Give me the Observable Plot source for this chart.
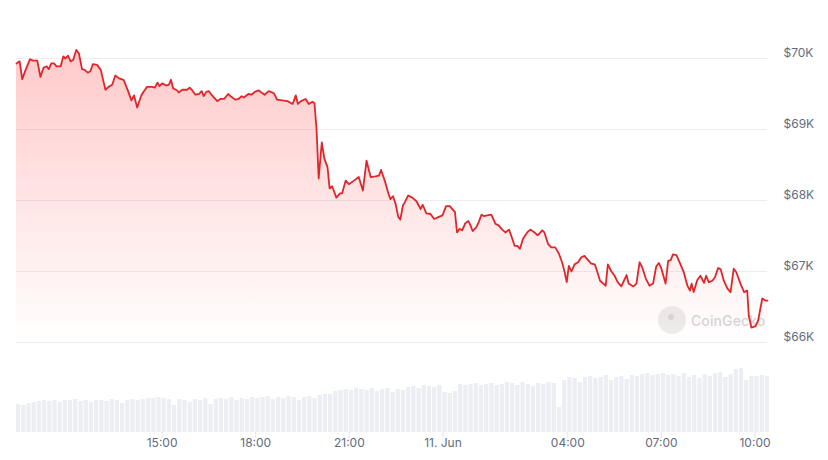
<!DOCTYPE html>
<html>
<head>
<meta charset="utf-8">
<script src="https://cdn.jsdelivr.net/npm/d3@7"></script>
<script src="https://cdn.jsdelivr.net/npm/@observablehq/plot@0.6"></script>
<style>
  body { margin: 0; background: #ffffff; font-family: Inter, "Noto Sans", sans-serif; }
  #wrap { position: relative; width: 828px; height: 460px; overflow: hidden; background: #fff; }
  #price, #vol { position: absolute; left: 0; z-index: 2; }
  #price { top: 0; }
  #vol { top: 360px; }
  #wm { position: absolute; left: 658px; top: 306px; z-index: 1; display: flex; align-items: center; gap: 5px; }
  #wm .logo { width: 28px; height: 28px; border-radius: 50%; background: #ececec; position: relative; }
  #wm .logo::after { content: ""; position: absolute; left: 10px; top: 8px; width: 6px; height: 6px; border-radius: 50%; background: #d8d8d8; }
  #wm .name { font: 500 14px Inter, "Noto Sans", sans-serif; color: #d6d6d6; letter-spacing: 0.1px; }
</style>
</head>
<body>
<div id="wrap">
  <div id="wm"><div class="logo"></div><div class="name">CoinGecko</div></div>
  <div id="price"></div>
  <div id="vol"></div>
</div>
<script>
// ---- Data (BTC price, 10 Jun 10:20 UTC → 11 Jun ~10:24) ----
const startTime = "2024-06-10T10:20:00Z";
// minutes after startTime
const minutes = [
  0,6,11,17,26,32,40,46,52,58,
  62,67,72,77,85,90,94,99,104,109,
  115,120,126,131,137,142,147,155,162,171,
  177,184,190,197,206,214,221,226,232,240,
  245,251,261,266,271,275,280,288,293,297,
  301,309,312,319,328,333,338,344,351,356,
  360,365,370,376,386,392,399,407,413,421,
  427,433,437,446,452,458,466,471,477,485,
  495,501,511,521,531,537,541,547,556,562,
  569,573,577,581,587,592,598,602,607,615,
  622,626,633,639,649,658,666,673,681,690,
  697,701,708,715,719,724,729,734,738,743,
  747,753,761,769,777,781,788,796,803,812,
  819,826,833,838,843,847,852,857,863,869,
  873,877,884,889,894,899,905,913,921,927,
  934,940,947,952,958,963,968,974,982,988,
  996,1002,1011,1015,1022,1028,1036,1043,1049,1054,
  1058,1062,1067,1073,1080,1086,1092,1099,1105,1112,
  1117,1122,1133,1137,1144,1150,1156,1163,1168,1173,
  1177,1186,1192,1198,1203,1210,1217,1224,1230,1235,
  1240,1248,1253,1258,1262,1269,1275,1283,1290,1295,
  1298,1302,1309,1315,1322,1326,1331,1338,1343,1349,
  1354,1360,1367,1373,1379,1384,1392,1399,1405,1408,
  1413,1421,1426,1434,1440,1444
];
const prices = [
  69930,69960,69710,69830,69990,69970,69970,69740,69870,69890,
  69850,69930,69930,69890,69890,70030,70000,70040,69960,69980,
  70120,70070,69850,69840,69800,69820,69920,69910,69840,69560,
  69600,69630,69760,69720,69700,69550,69410,69480,69310,69480,
  69540,69600,69600,69590,69660,69610,69650,69620,69630,69700,
  69580,69550,69520,69560,69560,69590,69550,69490,69500,69540,
  69470,69530,69540,69480,69400,69430,69430,69500,69460,69420,
  69430,69470,69450,69500,69490,69530,69550,69520,69490,69540,
  69510,69420,69410,69400,69360,69480,69360,69400,69430,69360,
  69390,69370,68990,68310,68820,68590,68470,68170,68200,68040,
  68100,68100,68280,68230,68280,68330,68140,68560,68330,68340,
  68350,68430,68280,68100,68020,68060,67950,67770,67730,67930,
  67980,68070,68040,67990,67880,67940,67820,67810,67740,67770,
  67790,67920,67920,67880,67840,67550,67600,67580,67680,67710,
  67650,67570,67620,67700,67800,67780,67790,67800,67670,67650,
  67590,67550,67590,67490,67360,67360,67320,67460,67550,67590,
  67550,67510,67580,67550,67390,67340,67340,67250,67130,66990,
  66850,67080,67000,67100,67130,67200,67220,67160,67110,67100,
  66990,66870,66800,67100,67000,66940,66850,66790,66870,66950,
  66830,66790,66830,67130,67060,66900,66800,66830,67070,67120,
  67040,66830,67150,67160,67240,67230,67130,66990,66800,66730,
  66830,66710,66880,66940,66840,66940,66850,66870,66920,67050,
  67030,66870,66760,66710,67040,66990,66830,66710,66730,66380,
  66210,66230,66310,66620,66590,66590
];
// trading volume per 10-minute bucket (relative units), from 10:20
const volumeStepMinutes = 10;
const volume = [
  28,27,29,30,31, 32,31,32,30,32, 32,33,31,32,30, 32,32,31,33,32,
  29,32,33,32,33, 34,34,35,34,33, 27,33,32,30,33, 32,34,28,33,34,
  33,35,32,34,33, 35,34,35,36,33, 35,34,36,35,32, 35,36,34,37,38,
  38,41,42,43,42, 44,43,42,44,41, 43,44,40,43,42, 45,46,44,47,46,
  45,47,40,39,41, 48,47,48,49,47, 48,49,47,48,50, 49,47,50,48,46,
  49,48,50,49,25, 52,55,54,50,55, 56,54,55,57,52, 55,56,53,57,56,
  58,59,57,58,59, 57,58,56,59,55, 57,54,58,56,59, 60,55,58,63,64,
  52,56,56,57,56
];
const endMinute = 1444;
const yTicks = [66000, 67000, 68000, 69000, 70000];
const yTickLabels = ["$66K", "$67K", "$68K", "$69K", "$70K"];
const xTickTimes = ["2024-06-10T15:00:00Z","2024-06-10T18:00:00Z","2024-06-10T21:00:00Z","2024-06-11T00:00:00Z","2024-06-11T04:00:00Z","2024-06-11T07:00:00Z","2024-06-11T10:00:00Z"];
const xTickLabels = ["15:00","18:00","21:00","11. Jun","04:00","07:00","10:00"];

// ---- Build tables ----
const t0 = new Date(startTime).getTime();
const MIN = 60000;
const priceData = minutes.map((m, i) => ({date: new Date(t0 + m * MIN), price: prices[i]}));
const volData = volume.map((v, i) => ({
  t1: new Date(t0 + i * volumeStepMinutes * MIN),
  t2: new Date(t0 + (i + 1) * volumeStepMinutes * MIN),
  v
}));
const yTickData = yTicks.map((v, i) => ({v, label: yTickLabels[i]}));
const xTickData = xTickTimes.map((s, i) => ({date: new Date(s), label: xTickLabels[i]}));
const xDomain = [new Date(t0), new Date(t0 + endMinute * MIN)];

const LINE = "#e0262a";
const LABEL = "#5f6b7c";

const gradient = () => {
  const defs = d3.create("svg:defs");
  const g = defs.append("linearGradient").attr("id", "priceFill")
    .attr("x1", 0).attr("x2", 0).attr("y1", 0).attr("y2", 1);
  g.append("stop").attr("offset", "0%").attr("stop-color", "#ff2a2a").attr("stop-opacity", 0.25);
  g.append("stop").attr("offset", "100%").attr("stop-color", "#ff2a2a").attr("stop-opacity", 0.0);
  return defs.node();
};

const pricePlot = Plot.plot({
  width: 828,
  height: 360,
  marginLeft: 16,
  marginRight: 61,
  marginTop: 58,
  marginBottom: 18,
  style: {background: "transparent", overflow: "visible", fontFamily: "Inter, 'Noto Sans', sans-serif"},
  x: {type: "utc", domain: xDomain, axis: null},
  y: {domain: [66000, 70000], axis: null},
  marks: [
    gradient,
    Plot.ruleY(yTickData, {y: "v", stroke: "#ebedf0", strokeWidth: 1}),
    Plot.areaY(priceData, {x: "date", y1: 66000, y2: "price", fill: "url(#priceFill)", curve: "linear"}),
    Plot.line(priceData, {x: "date", y: "price", stroke: LINE, strokeWidth: 1.8, strokeLinejoin: "round"}),
    Plot.text(yTickData, {y: "v", text: "label", frameAnchor: "right", textAnchor: "start", dx: 16, dy: -5, fill: LABEL, fontSize: 12})
  ]
});
document.getElementById("price").appendChild(pricePlot);

const volPlot = Plot.plot({
  width: 828,
  height: 100,
  marginLeft: 16,
  marginRight: 61,
  marginTop: 8,
  marginBottom: 28,
  style: {background: "transparent", overflow: "visible", fontFamily: "Inter, 'Noto Sans', sans-serif"},
  x: {type: "utc", domain: xDomain, axis: null},
  y: {domain: [0, 64], axis: null},
  marks: [
    Plot.rect(volData, {x1: "t1", x2: "t2", y1: 0, y2: "v", fill: "#eceef3", insetRight: 1}),
    Plot.ruleX(xTickData, {x: "date", stroke: "#e2e5ea", insetTop: 64, insetBottom: -6}),
    Plot.text(xTickData, {x: "date", text: "label", frameAnchor: "bottom", dy: 14, fill: LABEL, fontSize: 12})
  ]
});
document.getElementById("vol").appendChild(volPlot);
</script>
</body>
</html>
